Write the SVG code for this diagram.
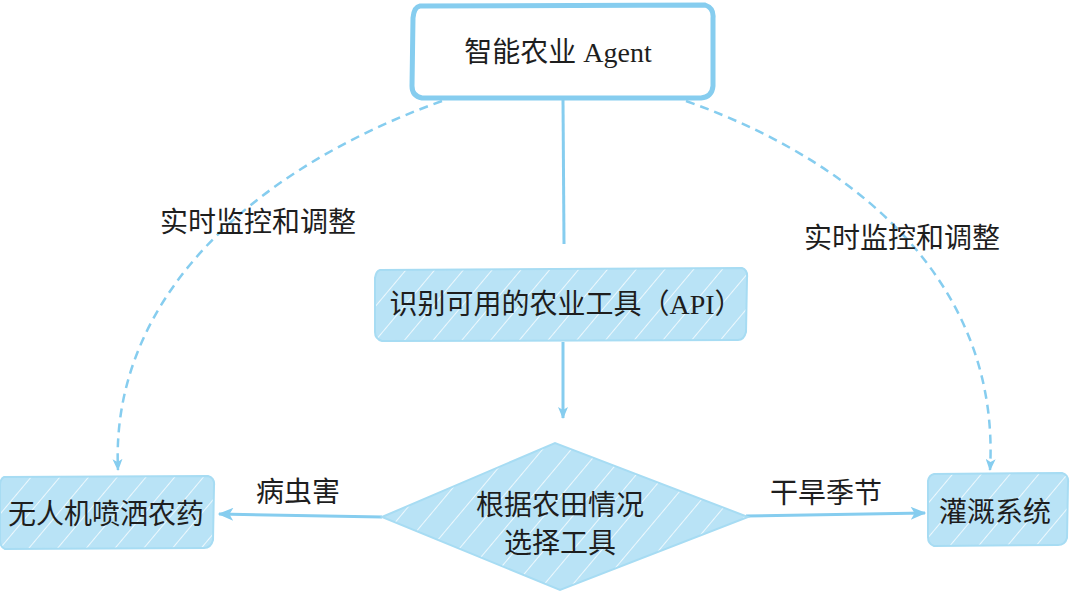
<svg xmlns="http://www.w3.org/2000/svg" width="1080" height="596" viewBox="0 0 1080 596">
<defs>
<pattern id="hatch" patternUnits="userSpaceOnUse" width="22" height="22" patternTransform="rotate(40)">
<rect width="22" height="22" fill="#b9e3f6"/>
<line x1="0" y1="0" x2="0" y2="22" stroke="#ffffff" stroke-width="2" opacity="0.75"/>
</pattern>
<marker id="arrBig" viewBox="0 0 12 10" refX="11" refY="5" markerWidth="16" markerHeight="13" orient="auto" markerUnits="userSpaceOnUse">
<path d="M0,0 L12,5 L0,10 L3,5 Z" fill="#86cdef"/>
</marker>
<marker id="arrSm" viewBox="0 0 12 10" refX="11" refY="5" markerWidth="12" markerHeight="10" orient="auto" markerUnits="userSpaceOnUse">
<path d="M0,0 L12,5 L0,10 L3,5 Z" fill="#86cdef"/>
</marker>
</defs>
<style>
text{font-family:"Liberation Serif","Noto Sans CJK SC",serif;fill:#1e1e1e;text-anchor:middle;dominant-baseline:central;}
.t{font-size:28px;}
.lbl{font-size:28px;}
.solid{fill:none;stroke:#86cdef;stroke-width:3;}
.dash{fill:none;stroke:#86cdef;stroke-width:2.5;stroke-dasharray:9 6;}
.hnode{fill:url(#hatch);stroke:#a7dcf3;stroke-width:2;}
</style>
<rect width="1080" height="596" fill="#ffffff"/>
<g id="connectors">
<line class="solid" x1="563" y1="100" x2="564" y2="244"/>
<line class="solid" x1="563" y1="342" x2="563" y2="418" marker-end="url(#arrSm)"/>
<line class="solid" x1="382" y1="517" x2="219" y2="514" marker-end="url(#arrBig)"/>
<line class="solid" x1="746" y1="516" x2="925" y2="513" marker-end="url(#arrBig)"/>
<path class="dash" d="M442,101 C250,170 110,300 118,470" marker-end="url(#arrSm)"/>
<path class="dash" d="M686,101 C880,170 1000,300 990,470" marker-end="url(#arrSm)"/>
</g>
<g id="lbl-left"><text class="lbl" x="258" y="222">实时监控和调整</text></g>
<g id="lbl-right"><text class="lbl" x="902" y="238">实时监控和调整</text></g>
<g id="lbl-pest"><text class="lbl" x="298" y="492">病虫害</text></g>
<g id="lbl-drought"><text class="lbl" x="826" y="493">干旱季节</text></g>
<g id="agent">
<path d="M420,6 L705,5 Q714,8 713,18 L713,86 Q712,97 701,98 L422,98 Q412,96 412,86 L413,18 Q414,7 420,6 Z" fill="#ffffff" stroke="#86cdef" stroke-width="5"/>
<text class="t" x="558" y="52">智能农业 Agent</text>
</g>
<g id="identify">
<path class="hnode" d="M380,270 L742,268 Q748,270 747,278 L746,332 Q744,340 738,340 L382,341 Q375,339 375,332 L375,278 Q376,271 380,270 Z"/>
<text class="t" x="566" y="304">识别可用的农业工具（API）</text>
</g>
<g id="decide">
<path class="hnode" d="M382,517 L555,443 L748,517 L560,590 Z"/>
<text class="t" x="560" y="505">根据农田情况</text>
<text class="t" x="560" y="543">选择工具</text>
</g>
<g id="drone">
<path class="hnode" d="M4,477 L208,476 Q215,478 214,486 L213,540 Q211,548 204,548 L5,549 Q0,547 0,540 L0,484 Q1,478 4,477 Z"/>
<text class="t" x="106" y="514">无人机喷洒农药</text>
</g>
<g id="irrigation">
<path class="hnode" d="M934,474 L1062,473 Q1069,475 1068,483 L1067,538 Q1065,545 1058,545 L934,546 Q928,544 928,537 L928,481 Q929,475 934,474 Z"/>
<text class="t" x="995" y="512">灌溉系统</text>
</g>
</svg>
